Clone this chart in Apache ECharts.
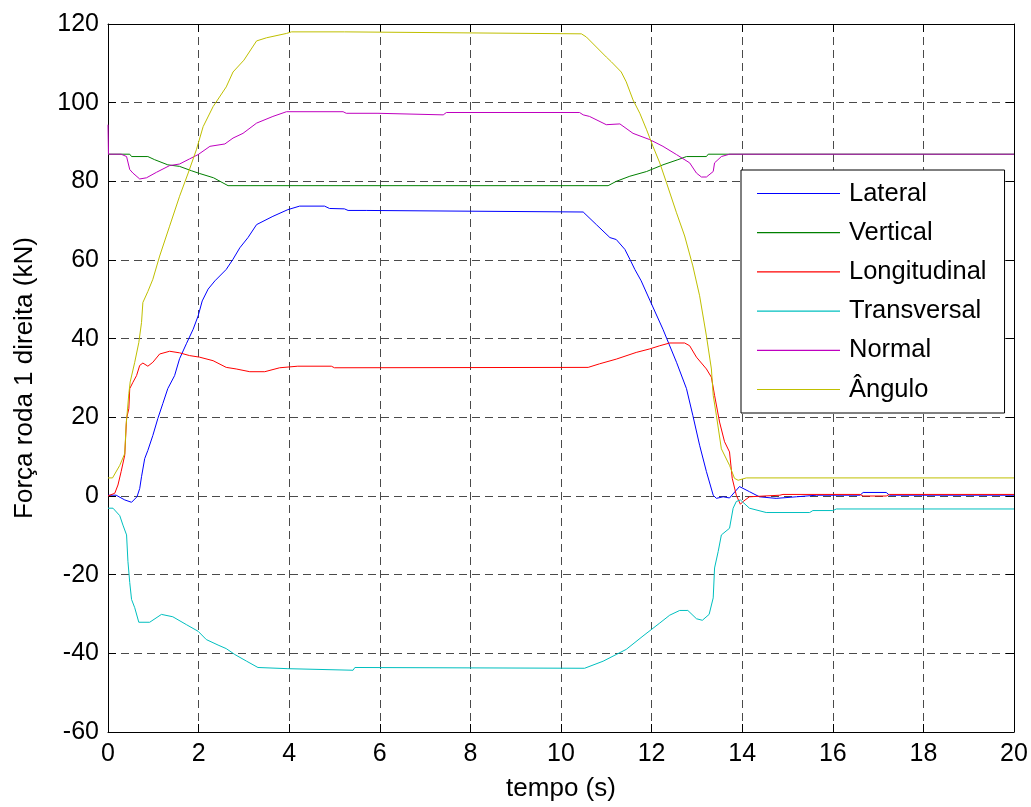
<!DOCTYPE html>
<html>
<head>
<meta charset="utf-8">
<title>Força roda 1 direita</title>
<script src="https://cdn.jsdelivr.net/npm/echarts@6/dist/echarts.min.js"></script>
<style>
  html, body { margin: 0; padding: 0; background: #fff; }
  #chart { width: 1031px; height: 807px; }
</style>
</head>
<body>
<div id="chart"></div>
<script>
// Forces on wheel 1 (right side) over time, [t (s), force (kN)] samples
const seriesNames = ['Lateral', 'Vertical', 'Longitudinal', 'Transversal', 'Normal', 'Ângulo'];
const seriesColors = ['#0000ff', '#008000', '#ff0000', '#00bfbf', '#bf00bf', '#bfbf00'];

const xTicks = [0, 2, 4, 6, 8, 10, 12, 14, 16, 18, 20];
const yTicks = [-60, -40, -20, 0, 20, 40, 60, 80, 100, 120];

const lateral = [
  [0, 0.2], [0.18, 0.2], [0.37, -1.0], [0.52, -1.6], [0.64, -0.2], [0.70, 1.9], [0.74, 4.9],
  [0.81, 9.5], [0.88, 11.6], [0.99, 15.4], [1.10, 19.7], [1.21, 23.5], [1.32, 27.3], [1.47, 30.6],
  [1.58, 34.9], [1.73, 38.7], [1.88, 42.4], [1.99, 45.8], [2.08, 49.6], [2.21, 52.6], [2.36, 54.7],
  [2.61, 57.6], [2.76, 60.2], [2.91, 63.1], [3.09, 65.7], [3.28, 69.0], [3.64, 71.1], [3.97, 72.8],
  [4.23, 73.7], [4.78, 73.7], [4.89, 73.1], [5.22, 73.0], [5.30, 72.6], [5.70, 72.6], [5.74, 72.2],
  [10.49, 72.2], [10.78, 69.0], [11.08, 65.7], [11.22, 65.2], [11.41, 62.7], [11.52, 60.2],
  [11.63, 57.6], [11.77, 54.7], [11.96, 49.8], [12.25, 42.4], [12.55, 34.0], [12.77, 27.3],
  [12.91, 20.5], [13.06, 12.9], [13.21, 6.2], [13.36, 0.2], [13.43, -0.6], [13.58, -0.2],
  [13.72, -0.5], [13.94, 2.4], [14.16, 1.1], [14.38, -0.2], [14.75, -0.6], [15.20, -0.2],
  [15.64, 0.2], [16.60, 0.2], [16.67, 0.9], [17.18, 0.9], [17.25, 0.2], [20, 0.2]
];

const vertical = [
  [0, 86.9], [0.48, 86.9], [0.52, 86.3], [0.88, 86.3], [1.03, 85.5], [1.32, 84.2], [1.58, 83.8],
  [1.84, 82.7], [2.02, 82.0], [2.33, 80.9], [2.65, 78.9], [11.04, 78.9], [11.22, 80.0],
  [11.52, 81.3], [11.89, 82.5], [12.25, 84.2], [12.58, 85.5], [12.77, 86.3], [13.21, 86.3],
  [13.25, 86.9], [20, 86.9]
];

const longitudinal = [
  [0, 0], [0.15, 0.7], [0.22, 2.8], [0.29, 6.2], [0.37, 10.4], [0.41, 19.7], [0.46, 22.2],
  [0.48, 27.3], [0.55, 28.9], [0.63, 30.6], [0.70, 33.2], [0.77, 33.8], [0.88, 33.0], [0.99, 34.0],
  [1.14, 36.1], [1.36, 36.8], [1.58, 36.4], [1.80, 35.7], [2.02, 35.3], [2.32, 34.4], [2.61, 32.7],
  [2.83, 32.3], [3.13, 31.6], [3.46, 31.6], [3.79, 32.6], [4.19, 33.0], [4.93, 33.0], [5.00, 32.6],
  [10.60, 32.7], [10.85, 33.6], [11.22, 34.8], [11.66, 36.5], [11.96, 37.4], [12.18, 38.2],
  [12.40, 38.9], [12.73, 38.9], [12.84, 38.2], [12.99, 35.3], [13.21, 32.3], [13.32, 30.2],
  [13.39, 25.6], [13.50, 18.8], [13.61, 13.8], [13.72, 11.2], [13.78, 4.5], [13.87, 0.2],
  [13.96, -2.1], [14.02, -1.4], [14.16, -0.2], [14.83, 0.2], [14.90, 0.4], [16.60, 0.4],
  [16.67, 0.0], [17.18, 0.0], [17.25, 0.4], [20, 0.4]
];

const transversal = [
  [0, -3.1], [0.11, -3.1], [0.26, -5.0], [0.33, -7.4], [0.41, -9.9], [0.44, -16.6], [0.48, -22.0],
  [0.52, -26.3], [0.59, -28.4], [0.68, -32.1], [0.92, -32.1], [1.18, -30.1], [1.43, -30.7],
  [1.73, -32.7], [1.99, -34.4], [2.17, -36.5], [2.43, -37.9], [2.61, -38.8], [2.80, -40.3],
  [3.06, -42.0], [3.31, -43.6], [3.97, -43.9], [4.00, -44.3], [5.41, -44.3], [5.45, -43.6],
  [10.52, -43.8], [10.93, -42.0], [11.44, -39.0], [11.81, -35.6], [12.18, -32.3], [12.40, -30.3],
  [12.62, -29.1], [12.80, -29.1], [12.99, -31.2], [13.12, -31.6], [13.27, -30.1], [13.36, -25.9],
  [13.39, -18.3], [13.47, -14.1], [13.54, -9.9], [13.72, -8.2], [13.80, -3.1], [13.87, -1.4],
  [13.96, -1.0], [14.16, -3.1], [14.53, -4.2], [15.49, -4.2], [15.56, -3.7], [16.00, -3.7],
  [16.08, -3.3], [20, -3.3]
];

const normal = [
  [0, 94.4], [0.01, 86.9], [0.29, 86.9], [0.41, 86.3], [0.48, 83.0], [0.55, 82.1], [0.70, 80.6],
  [0.85, 80.9], [1.07, 82.3], [1.36, 84.0], [1.58, 84.4], [1.80, 85.7], [1.99, 86.8], [2.25, 88.9],
  [2.58, 89.5], [2.76, 91.0], [2.98, 92.2], [3.28, 94.8], [3.64, 96.5], [3.94, 97.7], [5.19, 97.7],
  [5.26, 97.3], [5.96, 97.3], [6.00, 96.9], [7.40, 96.9], [7.47, 97.5], [10.41, 97.5],
  [10.49, 96.9], [10.63, 96.5], [11.00, 94.4], [11.30, 94.6], [11.59, 92.2], [11.96, 90.6],
  [12.25, 88.9], [12.55, 86.8], [12.84, 84.7], [12.99, 82.1], [13.10, 81.1], [13.21, 81.1],
  [13.36, 82.5], [13.39, 84.7], [13.54, 86.3], [13.72, 86.9], [20, 86.9]
];

const angulo = [
  [0, 4.6], [0.10, 4.6], [0.26, 7.8], [0.37, 10.8], [0.40, 18.0], [0.46, 26.0], [0.49, 29.0],
  [0.59, 34.0], [0.68, 39.0], [0.74, 44.1], [0.77, 49.2], [0.88, 52.0], [0.99, 55.1], [1.14, 61.0],
  [1.36, 68.6], [1.58, 76.2], [1.77, 82.1], [1.95, 88.0], [2.10, 93.9], [2.32, 99.0], [2.61, 104.0],
  [2.76, 107.8], [3.00, 110.8], [3.28, 115.7], [3.50, 116.5], [3.94, 117.6], [4.05, 118.0],
  [5.22, 118.0], [5.26, 117.5], [10.45, 117.5], [10.56, 116.7], [11.00, 111.6], [11.11, 110.4],
  [11.33, 107.8], [11.44, 105.3], [11.59, 100.7], [11.74, 97.3], [11.89, 93.1], [12.03, 88.9],
  [12.18, 84.7], [12.33, 79.6], [12.55, 72.0], [12.73, 66.1], [12.91, 58.5], [13.06, 50.9],
  [13.21, 40.7], [13.32, 32.3], [13.36, 25.6], [13.43, 20.5], [13.54, 12.0], [13.72, 7.8],
  [13.83, 4.5], [13.91, 4.0], [14.09, 4.6], [20, 4.6]
];

const seriesData = [lateral, vertical, longitudinal, transversal, normal, angulo];

const FONT = '"Liberation Sans", Arial, Helvetica, sans-serif';
const xMin = xTicks[0], xMax = xTicks[xTicks.length - 1], xStep = xTicks[1] - xTicks[0];
const yMin = yTicks[0], yMax = yTicks[yTicks.length - 1], yStep = yTicks[1] - yTicks[0];

const gridLine = { show: true, lineStyle: { color: '#4a4a4a', width: 1, type: [8, 5] } };
const frameLine = { show: true, onZero: false, lineStyle: { color: '#000', width: 1 } };
const innerTick = { show: true, inside: true, length: 8, lineStyle: { color: '#000', width: 1 } };
const tickLabel = { color: '#000', fontSize: 25, fontFamily: FONT };

const chart = echarts.init(document.getElementById('chart'), null, { renderer: 'canvas' });

chart.setOption({
  animation: false,
  backgroundColor: '#fff',
  grid: { left: 108, right: 17, top: 24, bottom: 72, containLabel: false },
  xAxis: [
    {
      type: 'value', position: 'bottom', min: xMin, max: xMax, interval: xStep,
      axisLine: frameLine, axisTick: innerTick, splitLine: gridLine,
      axisLabel: Object.assign({ margin: 10 }, tickLabel),
      name: 'tempo (s)', nameLocation: 'middle', nameGap: 44,
      nameTextStyle: { color: '#000', fontSize: 26, fontFamily: FONT }
    },
    {
      type: 'value', position: 'top', min: xMin, max: xMax, interval: xStep,
      axisLine: frameLine, axisTick: innerTick, splitLine: { show: false },
      axisLabel: { show: false }
    }
  ],
  yAxis: [
    {
      type: 'value', position: 'left', min: yMin, max: yMax, interval: yStep,
      axisLine: frameLine, axisTick: innerTick, splitLine: gridLine,
      axisLabel: Object.assign({ margin: 9 }, tickLabel),
      name: 'Força roda 1 direita (kN)', nameLocation: 'middle', nameRotate: 90, nameGap: 70,
      nameTextStyle: { color: '#000', fontSize: 26, fontFamily: FONT }
    },
    {
      type: 'value', position: 'right', min: yMin, max: yMax, interval: yStep,
      axisLine: frameLine, axisTick: innerTick, splitLine: { show: false },
      axisLabel: { show: false }
    }
  ],
  legend: {
    orient: 'vertical',
    left: 741, top: 170,
    backgroundColor: '#fff',
    borderColor: '#000', borderWidth: 1, borderRadius: 0,
    padding: [10.5, 18, 10.5, 16],
    icon: 'rect',
    itemWidth: 83, itemHeight: 1.2, itemGap: 13.2,
    selectedMode: false,
    textStyle: { color: '#000', fontSize: 25.5, fontFamily: FONT, lineHeight: 26, padding: [0, 0, 0, 4] },
    data: seriesNames
  },
  series: seriesNames.map((name, i) => ({
    name: name,
    type: 'line',
    data: seriesData[i],
    symbol: 'none',
    showSymbol: false,
    color: seriesColors[i],
    lineStyle: { color: seriesColors[i], width: 1 },
    emphasis: { disabled: true },
    silent: true,
    z: 2 + i
  }))
});
</script>
</body>
</html>
